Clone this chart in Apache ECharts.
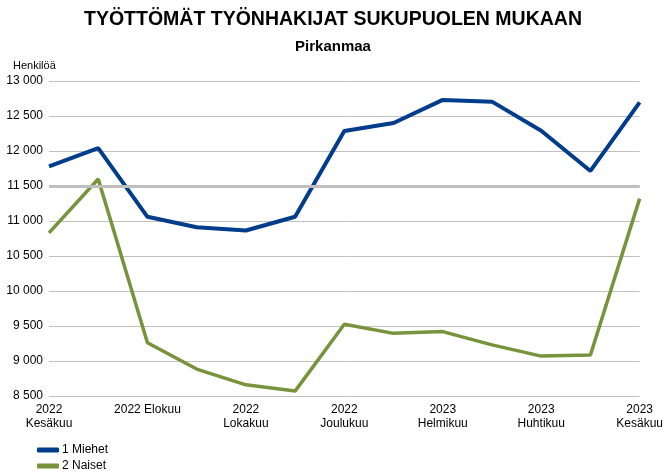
<!DOCTYPE html>
<html>
<head>
<meta charset="utf-8">
<script src="https://cdn.jsdelivr.net/npm/echarts@6/dist/echarts.min.js"></script>
<style>
  html, body { margin: 0; padding: 0; background: #fff; }
  #chart { width: 666px; height: 474px; }
</style>
</head>
<body>
<div id="chart"></div>
<script>
// kuukaudet 2022 kesäkuu - 2023 kesäkuu
var months = ["2022 Kesäkuu", "2022 Heinäkuu", "2022 Elokuu", "2022 Syyskuu", "2022 Lokakuu",
  "2022 Marraskuu", "2022 Joulukuu", "2023 Tammikuu", "2023 Helmikuu", "2023 Maaliskuu",
  "2023 Huhtikuu", "2023 Toukokuu", "2023 Kesäkuu"];
// akselin tekstit (joka toinen kuukausi)
var tickLabels = {
  "2022 Kesäkuu": "2022\nKesäkuu",
  "2022 Elokuu": "2022 Elokuu",
  "2022 Lokakuu": "2022\nLokakuu",
  "2022 Joulukuu": "2022\nJoulukuu",
  "2023 Helmikuu": "2023\nHelmikuu",
  "2023 Huhtikuu": "2023\nHuhtikuu",
  "2023 Kesäkuu": "2023\nKesäkuu"
};
var miehet = [11780, 12040, 11060, 10910, 10865, 11060, 12285, 12400, 12730, 12705, 12290, 11715, 12695];
var naiset = [10830, 11600, 9260, 8885, 8660, 8570, 9525, 9395, 9420, 9230, 9070, 9085, 11320];

var font = "'Liberation Sans Narrow', 'Liberation Sans', Arial, sans-serif";

function fmt(v) {
  return String(v).replace(/\B(?=(\d{3})+(?!\d))/g, " ");
}

var chart = echarts.init(document.getElementById("chart"), null, { renderer: "canvas" });
chart.setOption({
  animation: false,
  backgroundColor: "#fff",
  title: [
    {
      text: "TYÖTTÖMÄT TYÖNHAKIJAT SUKUPUOLEN MUKAAN",
      left: "center",
      top: 5,
      textStyle: { fontFamily: "'Liberation Sans', Arial, sans-serif", fontSize: 19.5, fontWeight: "bold", color: "#000" }
    },
    {
      text: "Pirkanmaa",
      left: "center",
      top: 34,
      textStyle: { fontFamily: "'Liberation Sans', Arial, sans-serif", fontSize: 15, fontWeight: "bold", color: "#000" }
    },
    {
      text: "Henkilöä",
      left: 8,
      top: 55,
      textStyle: { fontFamily: font, fontSize: 11, fontWeight: "normal", color: "#000" }
    }
  ],
  legend: {
    orient: "vertical",
    left: 37,
    top: 444,
    height: 40,
    padding: 0,
    itemGap: 4,
    itemWidth: 22,
    itemHeight: 5,
    icon: "roundRect",
    textStyle: { fontFamily: font, fontSize: 12, color: "#000", padding: [0, 0, 0, -2] },
    data: ["1 Miehet", "2 Naiset"]
  },
  grid: { left: 49, right: 23, top: 81, bottom: 78 },
  xAxis: {
    type: "category",
    data: months,
    boundaryGap: false,
    axisLine: { show: false },
    axisTick: { show: false },
    axisLabel: {
      interval: 1,
      margin: 7,
      lineHeight: 14,
      fontFamily: font,
      fontSize: 12,
      color: "#000",
      formatter: function (v) { return tickLabels[v] || ""; }
    }
  },
  yAxis: {
    type: "value",
    min: 8500,
    max: 13000,
    interval: 500,
    axisLine: { show: false },
    axisTick: { show: false },
    splitLine: { lineStyle: { color: "#c0c0c0", width: 1 } },
    axisLabel: {
      margin: 6,
      fontFamily: font,
      fontSize: 12,
      color: "#000",
      formatter: fmt
    }
  },
  series: [
    {
      name: "raja",
      type: "line",
      data: [],
      silent: true,
      z: 1,
      markLine: {
        silent: true,
        symbol: "none",
        label: { show: false },
        lineStyle: { color: "#bfbfbf", width: 3, type: "solid" },
        data: [{ yAxis: 11500 }]
      }
    },
    {
      name: "1 Miehet",
      type: "line",
      data: miehet,
      z: 3,
      symbol: "none",
      color: "#003c8c",
      lineStyle: { color: "#003c8c", width: 4 }
    },
    {
      name: "2 Naiset",
      type: "line",
      data: naiset,
      z: 3,
      symbol: "none",
      color: "#77933c",
      lineStyle: { color: "#77933c", width: 3.5 }
    }
  ]
});
</script>
</body>
</html>
